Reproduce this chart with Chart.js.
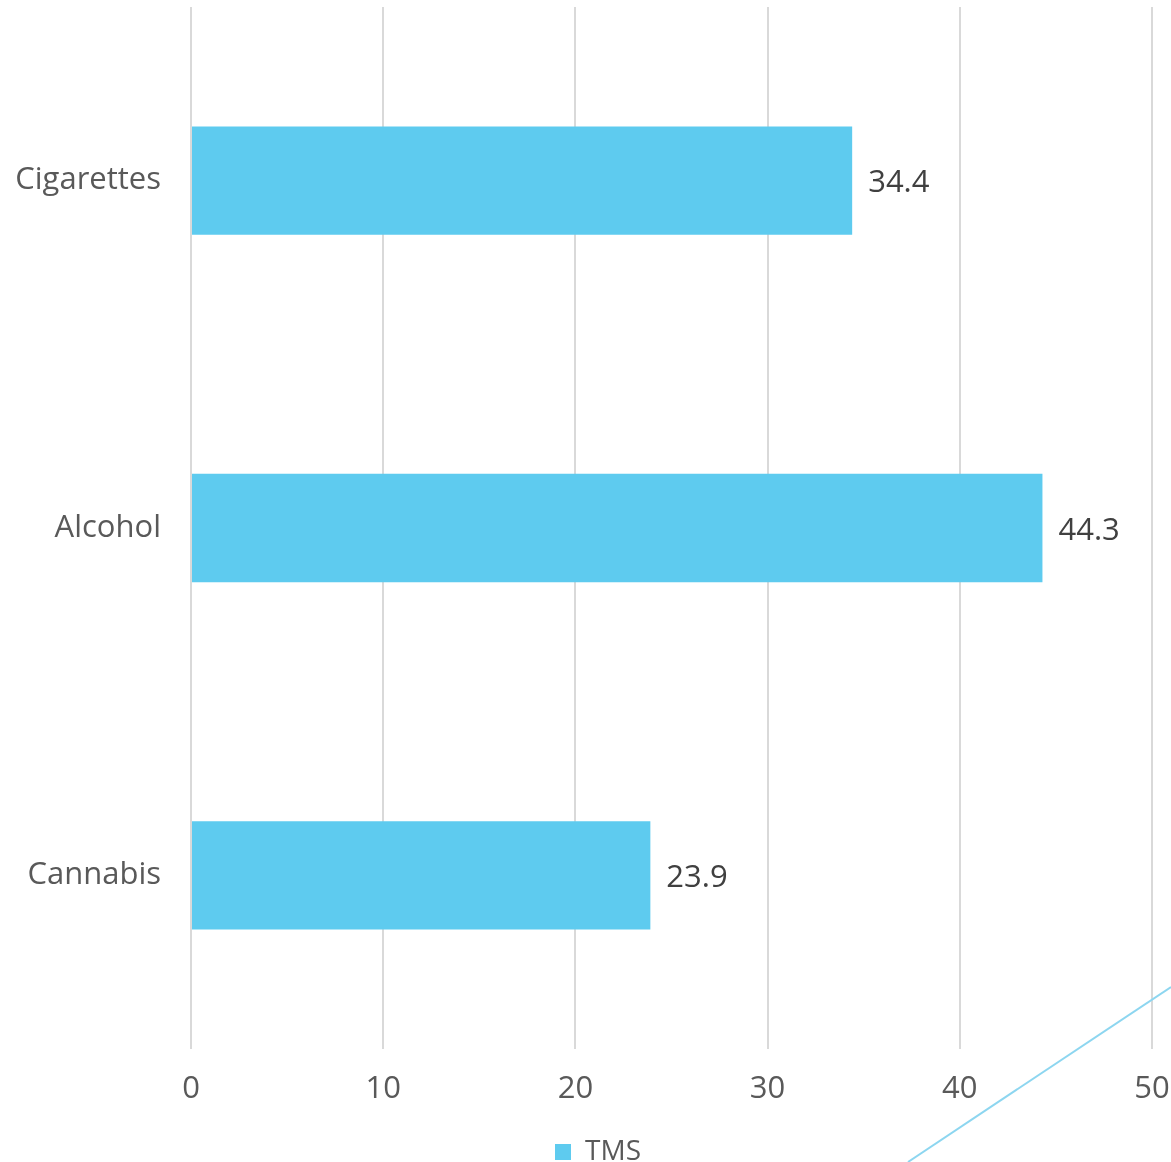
<!DOCTYPE html>
<html>
<head>
<meta charset="utf-8">
<script src="https://cdn.jsdelivr.net/npm/chart.js@4/dist/chart.umd.min.js"></script>
<style>
  html, body { margin: 0; padding: 0; background: #fff; }
  #wrap { position: relative; width: 1171px; height: 1162px; }
  #deco { position: absolute; left: 0; top: 0; pointer-events: none; }
</style>
</head>
<body>
<div id="wrap">
  <canvas id="myBarChart" width="1171" height="1162"></canvas>
  <svg id="deco" width="1171" height="1162">
    <line x1="908" y1="1162" x2="1171" y2="987" stroke="#8dd6f0" stroke-width="2"/>
  </svg>
</div>
<script>
// Dữ liệu
const categories = ['Cigarettes', 'Alcohol', 'Cannabis'];
const tmsValues = [34.4, 44.3, 23.9];
const xTicks = [0, 10, 20, 30, 40, 50];
const seriesName = 'TMS';

const FONT = "'Open Sans', 'DejaVu Sans', sans-serif";
const FSIZE = 31;

// plugin ghi số liệu ở cuối thanh
const valueLabels = {
    id: 'valueLabels',
    afterDatasetsDraw(chart) {
        const ctx = chart.ctx;
        const meta = chart.getDatasetMeta(0);
        ctx.save();
        ctx.font = FSIZE + 'px ' + FONT;
        ctx.fillStyle = '#404040';
        ctx.textAlign = 'left';
        ctx.textBaseline = 'middle';
        meta.data.forEach((bar, i) => {
            ctx.fillText(tmsValues[i].toFixed(1), bar.x + 16, bar.y + 3);
        });
        ctx.restore();
    }
};

// dời chú thích sang phải một chút
const legendShift = {
    id: 'legendShift',
    afterLayout(chart) {
        if (chart.legend) {
            chart.legend.left += 22;
            chart.legend.right += 22;
        }
    }
};

function drawChart() {
    const ctx = document.getElementById('myBarChart').getContext('2d');
    new Chart(ctx, {
        type: 'bar',
        data: {
            labels: categories,
            datasets: [{
                label: seriesName,
                data: tmsValues,
                backgroundColor: '#5ecbef',
                borderWidth: 0,
                categoryPercentage: 1,
                barPercentage: 0.312
            }]
        },
        options: {
            indexAxis: 'y',
            responsive: false,
            animation: false,
            layout: { padding: { top: 7, right: 19, left: 0, bottom: -14 } },
            scales: {
                x: {
                    min: 0,
                    max: 50,
                    afterBuildTicks: (scale) => { scale.ticks = xTicks.map(v => ({ value: v })); },
                    afterFit: (scale) => {
                        scale.height = 88;
                        scale.paddingLeft = 0;
                        scale.paddingRight = 0;
                    },
                    grid: { color: '#d9d9d9', lineWidth: 2, drawTicks: false },
                    border: { display: false },
                    ticks: { padding: 22, color: '#595959', font: { family: FONT, size: FSIZE } }
                },
                y: {
                    afterFit: (scale) => {
                        scale.width = 191;
                        scale.paddingTop = 0;
                        scale.paddingBottom = 0;
                    },
                    grid: { display: false, drawTicks: false },
                    border: { display: false },
                    ticks: { padding: 30, color: '#595959', font: { family: FONT, size: FSIZE } }
                }
            },
            plugins: {
                legend: {
                    position: 'bottom',
                    labels: {
                        boxWidth: 16,
                        boxHeight: 16,
                        padding: 1,
                        color: '#595959',
                        font: { family: FONT, size: 28 }
                    }
                },
                tooltip: { enabled: false }
            }
        },
        plugins: [valueLabels, legendShift]
    });
}

document.addEventListener('DOMContentLoaded', () => {
    drawChart();
});
</script>
</body>
</html>
